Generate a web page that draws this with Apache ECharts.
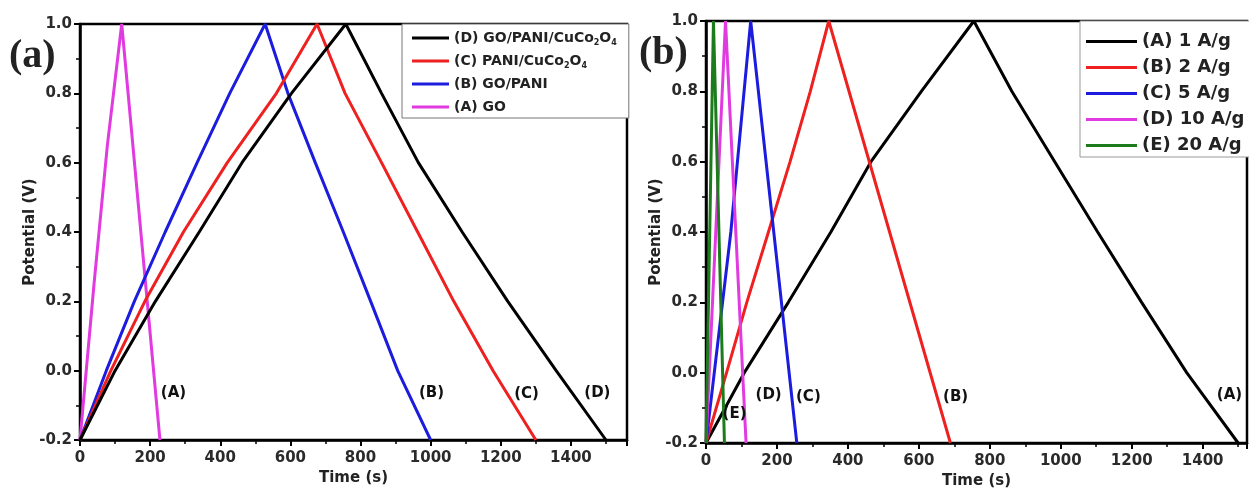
<!DOCTYPE html>
<html>
<head>
<meta charset="utf-8">
<script src="https://cdn.jsdelivr.net/npm/echarts@6/dist/echarts.min.js"></script>
<style>
  html, body { margin: 0; background: #fff; }
  #chart { width: 1249px; height: 492px; }
</style>
</head>
<body>
<div id="chart"></div>
<script>
// potential steps shared by the multi-point curves (charge up to 1.0 V, then discharge)
const potSteps = [-0.2, 0, 0.2, 0.4, 0.6, 0.8, 1.0, 0.8, 0.6, 0.4, 0.2, 0, -0.2];

// panel (a): different electrodes
const aGoT = [0, 40, 78, 119, 228];
const aGoV = [-0.2, 0.25, 0.65, 1.0, -0.2];
const aGoPaniT = [0, 75, 155, 243, 334, 427, 528, 593, 671, 751, 829, 906, 1000];
const aPaniCcoT = [0, 88, 185, 295, 420, 560, 676, 756, 860, 963, 1066, 1178, 1300];
const aGoPaniCcoT = [0, 100, 215, 340, 462, 603, 758, 860, 965, 1090, 1220, 1358, 1500];

// panel (b): GO/PANI/CuCo2O4 at several current densities
const b1T = [0, 108, 232, 352, 465, 607, 755, 862, 983, 1104, 1228, 1355, 1500];
const b2T = [0, 58, 115, 176, 237, 294, 346, 689];
const b2V = [-0.2, 0, 0.2, 0.4, 0.6, 0.8, 1.0, -0.2];
const b5T = [0, 70, 126, 256];
const b5V = [-0.2, 0.4, 1.0, -0.2];
const b10T = [0, 55, 113];
const b20T = [0, 21, 52];
const triV = [-0.2, 1.0, -0.2];

// curve tags placed in data space
const tagsA = [[268, -0.066, '(A)'], [1004, -0.065, '(B)'], [1275, -0.07, '(C)'], [1477, -0.065, '(D)']];
const tagsB = [[82, -0.12, '(E)'], [178, -0.066, '(D)'], [290, -0.07, '(C)'], [705, -0.07, '(B)'], [1477, -0.065, '(A)']];

const namesA = ['(D) GO/PANI/CuCo2O4', '(C) PANI/CuCo2O4', '(B) GO/PANI', '(A) GO'];
const namesB = ['(A) 1 A/g', '(B) 2 A/g', '(C) 5 A/g', '(D) 10 A/g', '(E) 20 A/g'];

const FONT = '"DejaVu Sans", sans-serif';
const BLACK = '#000000', RED = '#ee2020', BLUE = '#1c1cde', MAG = '#e03ae0', GREEN = '#1c7c1c';

const zip = (t, v) => t.map((x, i) => [x, v[i]]);

const chart = echarts.init(document.getElementById('chart'));

function xAxis(idx, max) {
  return {
    type: 'value', gridIndex: idx, min: 0, max: max, interval: 200,
    name: 'Time (s)', nameLocation: 'middle', nameGap: 31, nameMoveOverlap: false,
    nameTextStyle: { fontFamily: FONT, fontWeight: 'bold', fontSize: 15, color: '#222' },
    axisLine: { onZero: false, lineStyle: { color: '#000', width: 2.5 } },
    axisTick: { length: 6, lineStyle: { color: '#000', width: 2 } },
    minorTick: { show: true, splitNumber: 2, length: 4, lineStyle: { color: '#000', width: 1.5 } },
    splitLine: { show: false },
    axisLabel: { showMaxLabel: false, margin: 11, fontFamily: FONT, fontWeight: 'bold', fontSize: 15, color: '#2a2a2a',
      formatter: v => String(v) }
  };
}
function yAxis(idx) {
  return {
    type: 'value', gridIndex: idx, min: -0.2, max: 1.0, interval: 0.2,
    name: 'Potential (V)', nameLocation: 'middle', nameGap: 42, nameMoveOverlap: false,
    nameTextStyle: { fontFamily: FONT, fontWeight: 'bold', fontSize: 15, color: '#222' },
    axisLine: { onZero: false, lineStyle: { color: '#000', width: 2.5 } },
    axisTick: { length: 6, lineStyle: { color: '#000', width: 2 } },
    minorTick: { show: true, splitNumber: 2, length: 4, lineStyle: { color: '#000', width: 1.5 } },
    splitLine: { show: false },
    axisLabel: { margin: 8, fontFamily: FONT, fontWeight: 'bold', fontSize: 15, color: '#2a2a2a',
      formatter: v => v.toFixed(1) }
  };
}
function curve(name, data, color, gi) {
  return {
    name: name, type: 'line', xAxisIndex: gi, yAxisIndex: gi, data: data,
    symbol: 'none', smooth: false, color: color,
    lineStyle: { color: color, width: 3 }
  };
}
function tags(data, gi) {
  return {
    type: 'scatter', xAxisIndex: gi, yAxisIndex: gi, data: data, silent: true,
    symbolSize: 1, itemStyle: { color: '#fff', opacity: 0 }, z: 5,
    label: { show: true, position: [0, 0], align: 'center', verticalAlign: 'middle',
      formatter: p => p.value[2], opacity: 1,
      fontFamily: FONT, fontWeight: 'bold', fontSize: 15, color: '#111' }
  };
}
const legendText = (size, lh) => ({
  fontFamily: FONT, fontWeight: 'bold', fontSize: size, lineHeight: lh, color: '#222',
  rich: { s: { fontFamily: FONT, fontWeight: 'bold', fontSize: 8, lineHeight: 8, verticalAlign: 'bottom', color: '#222' } }
});

chart.setOption({
  animation: false,
  backgroundColor: '#fff',
  grid: [
    { left: 80, top: 24, width: 547, height: 416, show: true, borderColor: '#000', borderWidth: 2.5,
      outerBoundsMode: 'none', containLabel: false },
    { left: 706, top: 21, width: 541, height: 422, show: true, borderColor: '#000', borderWidth: 2.5,
      outerBoundsMode: 'none', containLabel: false }
  ],
  xAxis: [xAxis(0, 1560), xAxis(1, 1525)],
  yAxis: [yAxis(0), yAxis(1)],
  legend: [
    { data: namesA, orient: 'vertical', left: 402, top: 24, icon: 'rect',
      itemWidth: 37, itemHeight: 3, itemGap: 5, padding: [5, 12, 2, 10],
      borderColor: '#777', borderWidth: 1, backgroundColor: '#fff', selectedMode: false,
      textStyle: legendText(14, 18),
      formatter: n => n.replace('Co2O4', 'Co{s|2}O{s|4}') },
    { data: namesB, orient: 'vertical', left: 1080, top: 21, icon: 'rect',
      itemWidth: 51, itemHeight: 3, itemGap: 5, padding: [10, 6, 1, 6],
      borderColor: '#999', borderWidth: 1, backgroundColor: '#fff', selectedMode: false,
      textStyle: legendText(18, 21) }
  ],
  graphic: [
    { type: 'text', left: 9, top: 37, style: { text: '(a)', font: 'bold 40px "Liberation Serif", serif', fill: '#222' } },
    { type: 'text', left: 639, top: 34, style: { text: '(b)', font: 'bold 40px "Liberation Serif", serif', fill: '#222' } }
  ],
  series: [
    curve(namesA[3], zip(aGoT, aGoV), MAG, 0),
    curve(namesA[2], zip(aGoPaniT, potSteps), BLUE, 0),
    curve(namesA[1], zip(aPaniCcoT, potSteps), RED, 0),
    curve(namesA[0], zip(aGoPaniCcoT, potSteps), BLACK, 0),
    tags(tagsA, 0),
    curve(namesB[0], zip(b1T, potSteps), BLACK, 1),
    curve(namesB[1], zip(b2T, b2V), RED, 1),
    curve(namesB[2], zip(b5T, b5V), BLUE, 1),
    curve(namesB[3], zip(b10T, triV), MAG, 1),
    curve(namesB[4], zip(b20T, triV), GREEN, 1),
    tags(tagsB, 1)
  ]
});
</script>
</body>
</html>
